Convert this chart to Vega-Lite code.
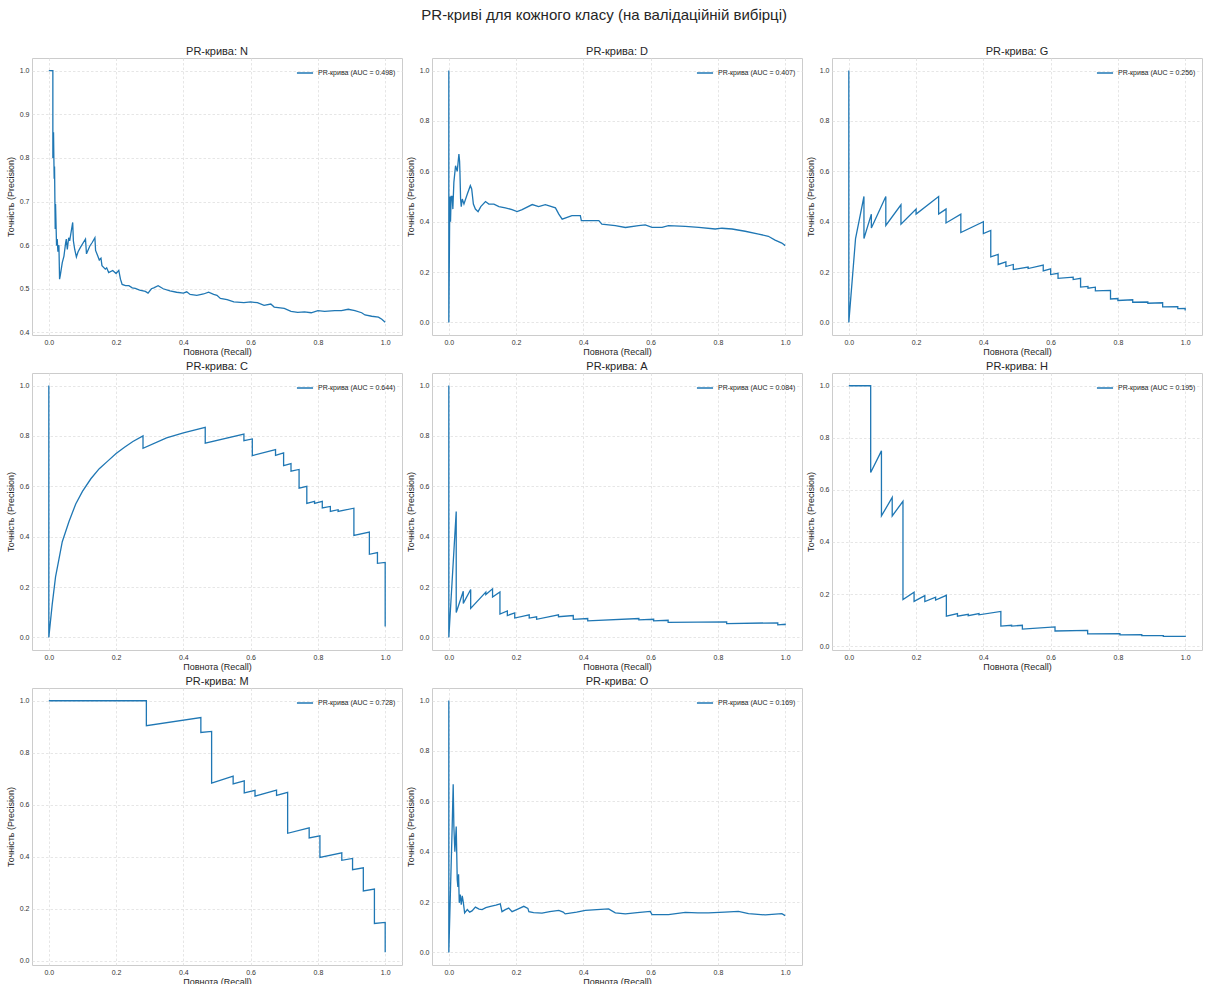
{
  "$schema": "https://vega.github.io/schema/vega-lite/v6.json",
  "background": "white",
  "padding": {"left": 5, "top": 7, "right": 5, "bottom": 5},
  "title": {"text": "PR-криві для кожного класу (на валідаційній вибірці)", "fontSize": 15, "fontWeight": "normal", "color": "#262626", "anchor": "middle", "offset": 23},
  "config": {
    "font": "Liberation Sans",
    "view": {"stroke": "#cccccc", "strokeWidth": 1},
    "axis": {"grid": true, "gridColor": "#e0e0e0", "gridDash": [2.5, 2], "gridWidth": 0.8, "domain": false, "ticks": false, "labelFontSize": 7, "labelColor": "#333333", "titleFontSize": 9, "titleFontWeight": "normal", "titleColor": "#262626", "labelPadding": 3, "titlePadding": 4},
    "axisX": {"labelPadding": 3, "titlePadding": 2},
    "title": {"fontSize": 11, "fontWeight": "normal", "color": "#262626", "offset": 1},
    "legend": {"orient": "top-right", "symbolType": "stroke", "symbolSize": 260, "symbolStrokeWidth": 1.5, "labelFontSize": 7, "labelColor": "#262626", "offset": 6, "padding": 0}
  },
  "datasets": {
    "N": [{"r":0,"p":1},{"r":0.012,"p":1},{"r":0.012,"p":0.8},{"r":0.014,"p":0.859},{"r":0.015,"p":0.8},{"r":0.016,"p":0.752},{"r":0.017,"p":0.78},{"r":0.019,"p":0.637},{"r":0.02,"p":0.694},{"r":0.022,"p":0.63},{"r":0.023,"p":0.599},{"r":0.025,"p":0.614},{"r":0.027,"p":0.585},{"r":0.03,"p":0.6},{"r":0.032,"p":0.522},{"r":0.034,"p":0.53},{"r":0.04,"p":0.56},{"r":0.045,"p":0.575},{"r":0.05,"p":0.605},{"r":0.052,"p":0.614},{"r":0.055,"p":0.59},{"r":0.059,"p":0.617},{"r":0.062,"p":0.61},{"r":0.071,"p":0.652},{"r":0.073,"p":0.61},{"r":0.077,"p":0.59},{"r":0.082,"p":0.573},{"r":0.087,"p":0.585},{"r":0.094,"p":0.595},{"r":0.109,"p":0.614},{"r":0.112,"p":0.58},{"r":0.122,"p":0.598},{"r":0.129,"p":0.606},{"r":0.137,"p":0.617},{"r":0.139,"p":0.588},{"r":0.145,"p":0.576},{"r":0.15,"p":0.566},{"r":0.155,"p":0.57},{"r":0.158,"p":0.553},{"r":0.168,"p":0.545},{"r":0.172,"p":0.548},{"r":0.178,"p":0.537},{"r":0.19,"p":0.542},{"r":0.2,"p":0.535},{"r":0.208,"p":0.542},{"r":0.213,"p":0.522},{"r":0.218,"p":0.51},{"r":0.228,"p":0.507},{"r":0.238,"p":0.507},{"r":0.248,"p":0.502},{"r":0.257,"p":0.501},{"r":0.27,"p":0.497},{"r":0.287,"p":0.494},{"r":0.295,"p":0.49},{"r":0.305,"p":0.5},{"r":0.312,"p":0.502},{"r":0.325,"p":0.507},{"r":0.34,"p":0.5},{"r":0.36,"p":0.495},{"r":0.38,"p":0.492},{"r":0.4,"p":0.49},{"r":0.41,"p":0.493},{"r":0.42,"p":0.487},{"r":0.44,"p":0.485},{"r":0.46,"p":0.488},{"r":0.475,"p":0.492},{"r":0.49,"p":0.487},{"r":0.5,"p":0.485},{"r":0.51,"p":0.478},{"r":0.53,"p":0.475},{"r":0.55,"p":0.47},{"r":0.58,"p":0.468},{"r":0.6,"p":0.47},{"r":0.62,"p":0.468},{"r":0.64,"p":0.462},{"r":0.66,"p":0.465},{"r":0.67,"p":0.458},{"r":0.7,"p":0.455},{"r":0.72,"p":0.448},{"r":0.74,"p":0.446},{"r":0.76,"p":0.447},{"r":0.78,"p":0.445},{"r":0.8,"p":0.45},{"r":0.82,"p":0.448},{"r":0.85,"p":0.45},{"r":0.87,"p":0.45},{"r":0.89,"p":0.453},{"r":0.91,"p":0.45},{"r":0.93,"p":0.445},{"r":0.94,"p":0.44},{"r":0.96,"p":0.437},{"r":0.98,"p":0.435},{"r":0.99,"p":0.43},{"r":1,"p":0.423}],
    "D": [{"r":0,"p":1},{"r":0,"p":0},{"r":0.002,"p":0.33},{"r":0.003,"p":0.5},{"r":0.005,"p":0.4},{"r":0.007,"p":0.5},{"r":0.01,"p":0.5},{"r":0.012,"p":0.45},{"r":0.015,"p":0.556},{"r":0.02,"p":0.622},{"r":0.025,"p":0.6},{"r":0.03,"p":0.669},{"r":0.032,"p":0.64},{"r":0.033,"p":0.6},{"r":0.035,"p":0.49},{"r":0.037,"p":0.46},{"r":0.04,"p":0.49},{"r":0.045,"p":0.47},{"r":0.055,"p":0.51},{"r":0.064,"p":0.543},{"r":0.068,"p":0.53},{"r":0.073,"p":0.47},{"r":0.079,"p":0.45},{"r":0.087,"p":0.44},{"r":0.095,"p":0.46},{"r":0.109,"p":0.48},{"r":0.119,"p":0.47},{"r":0.134,"p":0.47},{"r":0.149,"p":0.46},{"r":0.168,"p":0.455},{"r":0.188,"p":0.448},{"r":0.203,"p":0.44},{"r":0.218,"p":0.448},{"r":0.248,"p":0.468},{"r":0.267,"p":0.46},{"r":0.287,"p":0.468},{"r":0.317,"p":0.455},{"r":0.327,"p":0.43},{"r":0.337,"p":0.41},{"r":0.366,"p":0.424},{"r":0.391,"p":0.424},{"r":0.394,"p":0.404},{"r":0.446,"p":0.404},{"r":0.455,"p":0.39},{"r":0.495,"p":0.384},{"r":0.525,"p":0.377},{"r":0.564,"p":0.384},{"r":0.584,"p":0.387},{"r":0.604,"p":0.377},{"r":0.634,"p":0.377},{"r":0.653,"p":0.384},{"r":0.703,"p":0.381},{"r":0.743,"p":0.377},{"r":0.792,"p":0.371},{"r":0.812,"p":0.374},{"r":0.842,"p":0.371},{"r":0.881,"p":0.362},{"r":0.921,"p":0.351},{"r":0.95,"p":0.342},{"r":0.97,"p":0.327},{"r":0.99,"p":0.315},{"r":1,"p":0.305}],
    "G": [{"r":0,"p":1},{"r":0,"p":0},{"r":0.02,"p":0.333},{"r":0.045,"p":0.5},{"r":0.045,"p":0.333},{"r":0.067,"p":0.43},{"r":0.067,"p":0.375},{"r":0.11,"p":0.5},{"r":0.11,"p":0.385},{"r":0.155,"p":0.467},{"r":0.155,"p":0.39},{"r":0.2,"p":0.45},{"r":0.2,"p":0.43},{"r":0.267,"p":0.5},{"r":0.267,"p":0.43},{"r":0.289,"p":0.45},{"r":0.289,"p":0.395},{"r":0.333,"p":0.43},{"r":0.333,"p":0.357},{"r":0.4,"p":0.4},{"r":0.4,"p":0.353},{"r":0.422,"p":0.365},{"r":0.422,"p":0.26},{"r":0.444,"p":0.27},{"r":0.444,"p":0.23},{"r":0.467,"p":0.24},{"r":0.467,"p":0.222},{"r":0.489,"p":0.23},{"r":0.489,"p":0.21},{"r":0.533,"p":0.22},{"r":0.533,"p":0.214},{"r":0.578,"p":0.228},{"r":0.578,"p":0.205},{"r":0.6,"p":0.213},{"r":0.6,"p":0.19},{"r":0.622,"p":0.195},{"r":0.622,"p":0.175},{"r":0.667,"p":0.18},{"r":0.667,"p":0.17},{"r":0.689,"p":0.175},{"r":0.689,"p":0.14},{"r":0.711,"p":0.143},{"r":0.711,"p":0.136},{"r":0.733,"p":0.14},{"r":0.733,"p":0.125},{"r":0.778,"p":0.127},{"r":0.778,"p":0.093},{"r":0.8,"p":0.095},{"r":0.8,"p":0.087},{"r":0.844,"p":0.09},{"r":0.844,"p":0.08},{"r":0.889,"p":0.081},{"r":0.889,"p":0.076},{"r":0.933,"p":0.078},{"r":0.933,"p":0.062},{"r":0.978,"p":0.063},{"r":0.978,"p":0.055},{"r":1,"p":0.056},{"r":1,"p":0.047}],
    "C": [{"r":0,"p":1},{"r":0,"p":0},{"r":0.01,"p":0.13},{"r":0.02,"p":0.24},{"r":0.03,"p":0.31},{"r":0.04,"p":0.38},{"r":0.06,"p":0.46},{"r":0.08,"p":0.53},{"r":0.1,"p":0.58},{"r":0.125,"p":0.63},{"r":0.15,"p":0.67},{"r":0.175,"p":0.7},{"r":0.2,"p":0.73},{"r":0.225,"p":0.755},{"r":0.25,"p":0.778},{"r":0.28,"p":0.8},{"r":0.28,"p":0.751},{"r":0.35,"p":0.792},{"r":0.4,"p":0.812},{"r":0.465,"p":0.834},{"r":0.465,"p":0.771},{"r":0.58,"p":0.807},{"r":0.58,"p":0.781},{"r":0.605,"p":0.788},{"r":0.605,"p":0.722},{"r":0.674,"p":0.746},{"r":0.674,"p":0.723},{"r":0.698,"p":0.733},{"r":0.698,"p":0.682},{"r":0.72,"p":0.69},{"r":0.72,"p":0.66},{"r":0.744,"p":0.667},{"r":0.744,"p":0.593},{"r":0.767,"p":0.6},{"r":0.767,"p":0.532},{"r":0.79,"p":0.54},{"r":0.79,"p":0.532},{"r":0.813,"p":0.54},{"r":0.813,"p":0.514},{"r":0.837,"p":0.52},{"r":0.837,"p":0.5},{"r":0.86,"p":0.507},{"r":0.86,"p":0.5},{"r":0.907,"p":0.513},{"r":0.907,"p":0.405},{"r":0.953,"p":0.418},{"r":0.953,"p":0.33},{"r":0.977,"p":0.337},{"r":0.977,"p":0.294},{"r":1,"p":0.298},{"r":1,"p":0.043}],
    "A": [{"r":0,"p":1},{"r":0,"p":0},{"r":0.022,"p":0.5},{"r":0.022,"p":0.099},{"r":0.043,"p":0.183},{"r":0.043,"p":0.135},{"r":0.065,"p":0.19},{"r":0.065,"p":0.115},{"r":0.11,"p":0.18},{"r":0.11,"p":0.17},{"r":0.13,"p":0.193},{"r":0.13,"p":0.16},{"r":0.152,"p":0.18},{"r":0.152,"p":0.093},{"r":0.174,"p":0.105},{"r":0.174,"p":0.087},{"r":0.196,"p":0.097},{"r":0.196,"p":0.077},{"r":0.239,"p":0.09},{"r":0.239,"p":0.077},{"r":0.261,"p":0.082},{"r":0.261,"p":0.072},{"r":0.326,"p":0.09},{"r":0.326,"p":0.082},{"r":0.37,"p":0.087},{"r":0.37,"p":0.072},{"r":0.413,"p":0.075},{"r":0.413,"p":0.066},{"r":0.565,"p":0.075},{"r":0.565,"p":0.07},{"r":0.609,"p":0.072},{"r":0.609,"p":0.066},{"r":0.652,"p":0.068},{"r":0.652,"p":0.06},{"r":0.826,"p":0.062},{"r":0.826,"p":0.055},{"r":0.978,"p":0.058},{"r":0.978,"p":0.05},{"r":1,"p":0.052},{"r":1,"p":0.048}],
    "H": [{"r":0,"p":1},{"r":0.065,"p":1},{"r":0.065,"p":0.667},{"r":0.097,"p":0.75},{"r":0.097,"p":0.5},{"r":0.129,"p":0.571},{"r":0.129,"p":0.5},{"r":0.161,"p":0.556},{"r":0.161,"p":0.179},{"r":0.194,"p":0.207},{"r":0.194,"p":0.172},{"r":0.226,"p":0.194},{"r":0.226,"p":0.171},{"r":0.258,"p":0.188},{"r":0.258,"p":0.177},{"r":0.29,"p":0.195},{"r":0.29,"p":0.115},{"r":0.323,"p":0.125},{"r":0.323,"p":0.115},{"r":0.355,"p":0.122},{"r":0.355,"p":0.117},{"r":0.387,"p":0.125},{"r":0.387,"p":0.12},{"r":0.452,"p":0.133},{"r":0.452,"p":0.077},{"r":0.484,"p":0.08},{"r":0.484,"p":0.077},{"r":0.516,"p":0.08},{"r":0.516,"p":0.065},{"r":0.613,"p":0.074},{"r":0.613,"p":0.058},{"r":0.71,"p":0.06},{"r":0.71,"p":0.047},{"r":0.806,"p":0.048},{"r":0.806,"p":0.043},{"r":0.871,"p":0.044},{"r":0.871,"p":0.04},{"r":0.935,"p":0.04},{"r":0.935,"p":0.037},{"r":1,"p":0.037},{"r":1,"p":0.035}],
    "M": [{"r":0,"p":1},{"r":0.29,"p":1},{"r":0.29,"p":0.904},{"r":0.452,"p":0.935},{"r":0.452,"p":0.878},{"r":0.484,"p":0.882},{"r":0.484,"p":0.683},{"r":0.548,"p":0.71},{"r":0.548,"p":0.68},{"r":0.581,"p":0.692},{"r":0.581,"p":0.645},{"r":0.613,"p":0.655},{"r":0.613,"p":0.633},{"r":0.677,"p":0.656},{"r":0.677,"p":0.636},{"r":0.71,"p":0.647},{"r":0.71,"p":0.49},{"r":0.774,"p":0.511},{"r":0.774,"p":0.472},{"r":0.806,"p":0.48},{"r":0.806,"p":0.397},{"r":0.871,"p":0.415},{"r":0.871,"p":0.386},{"r":0.903,"p":0.393},{"r":0.903,"p":0.35},{"r":0.935,"p":0.357},{"r":0.935,"p":0.268},{"r":0.968,"p":0.275},{"r":0.968,"p":0.143},{"r":1,"p":0.147},{"r":1,"p":0.032}],
    "O": [{"r":0,"p":1},{"r":0,"p":0},{"r":0.01,"p":0.5},{"r":0.013,"p":0.668},{"r":0.015,"p":0.5},{"r":0.018,"p":0.4},{"r":0.02,"p":0.45},{"r":0.022,"p":0.5},{"r":0.023,"p":0.43},{"r":0.025,"p":0.29},{"r":0.027,"p":0.26},{"r":0.029,"p":0.31},{"r":0.031,"p":0.197},{"r":0.034,"p":0.23},{"r":0.037,"p":0.19},{"r":0.04,"p":0.225},{"r":0.043,"p":0.2},{"r":0.047,"p":0.157},{"r":0.055,"p":0.17},{"r":0.062,"p":0.16},{"r":0.069,"p":0.165},{"r":0.079,"p":0.18},{"r":0.09,"p":0.172},{"r":0.099,"p":0.17},{"r":0.11,"p":0.178},{"r":0.124,"p":0.183},{"r":0.14,"p":0.188},{"r":0.153,"p":0.193},{"r":0.158,"p":0.162},{"r":0.168,"p":0.17},{"r":0.178,"p":0.176},{"r":0.188,"p":0.162},{"r":0.205,"p":0.172},{"r":0.223,"p":0.183},{"r":0.235,"p":0.175},{"r":0.238,"p":0.162},{"r":0.252,"p":0.158},{"r":0.277,"p":0.156},{"r":0.3,"p":0.162},{"r":0.327,"p":0.167},{"r":0.34,"p":0.16},{"r":0.346,"p":0.153},{"r":0.38,"p":0.16},{"r":0.406,"p":0.167},{"r":0.44,"p":0.17},{"r":0.475,"p":0.173},{"r":0.495,"p":0.157},{"r":0.525,"p":0.153},{"r":0.56,"p":0.158},{"r":0.599,"p":0.163},{"r":0.604,"p":0.15},{"r":0.653,"p":0.15},{"r":0.703,"p":0.159},{"r":0.74,"p":0.157},{"r":0.772,"p":0.157},{"r":0.82,"p":0.16},{"r":0.861,"p":0.163},{"r":0.891,"p":0.154},{"r":0.941,"p":0.149},{"r":0.99,"p":0.154},{"r":1,"p":0.146}]
  },
  "columns": 3,
  "spacing": {"row": 38, "column": 30},
  "bounds": "flush",
  "resolve": {"scale": {"color": "independent", "x": "independent", "y": "independent"}, "legend": {"color": "independent"}},
  "concat": [
    {"title": "PR-крива: N", "width": 370, "height": 277, "data": {"name": "N"},
     "mark": {"type": "line", "strokeWidth": 1.3},
     "encoding": {
       "x": {"field": "r", "type": "quantitative", "scale": {"domain": [-0.05, 1.05], "nice": false, "zero": false}, "axis": {"title": "Повнота (Recall)", "values": [0, 0.2, 0.4, 0.6, 0.8, 1], "format": ".1f"}},
       "y": {"field": "p", "type": "quantitative", "scale": {"domain": [0.394, 1.029], "nice": false, "zero": false}, "axis": {"title": "Точність (Precision)", "values": [0.4, 0.5, 0.6, 0.7, 0.8, 0.9, 1], "format": ".1f"}},
       "color": {"datum": "PR-крива (AUC = 0.498)", "type": "nominal", "scale": {"range": ["#1f77b4"]}, "legend": {"title": null}},
       "order": {"value": null}}},
    {"title": "PR-крива: D", "width": 370, "height": 277, "data": {"name": "D"},
     "mark": {"type": "line", "strokeWidth": 1.3},
     "encoding": {
       "x": {"field": "r", "type": "quantitative", "scale": {"domain": [-0.05, 1.05], "nice": false, "zero": false}, "axis": {"title": "Повнота (Recall)", "values": [0, 0.2, 0.4, 0.6, 0.8, 1], "format": ".1f"}},
       "y": {"field": "p", "type": "quantitative", "scale": {"domain": [-0.05, 1.05], "nice": false, "zero": false}, "axis": {"title": "Точність (Precision)", "values": [0, 0.2, 0.4, 0.6, 0.8, 1], "format": ".1f"}},
       "color": {"datum": "PR-крива (AUC = 0.407)", "type": "nominal", "scale": {"range": ["#1f77b4"]}, "legend": {"title": null}},
       "order": {"value": null}}},
    {"title": "PR-крива: G", "width": 370, "height": 277, "data": {"name": "G"},
     "mark": {"type": "line", "strokeWidth": 1.3},
     "encoding": {
       "x": {"field": "r", "type": "quantitative", "scale": {"domain": [-0.05, 1.05], "nice": false, "zero": false}, "axis": {"title": "Повнота (Recall)", "values": [0, 0.2, 0.4, 0.6, 0.8, 1], "format": ".1f"}},
       "y": {"field": "p", "type": "quantitative", "scale": {"domain": [-0.05, 1.05], "nice": false, "zero": false}, "axis": {"title": "Точність (Precision)", "values": [0, 0.2, 0.4, 0.6, 0.8, 1], "format": ".1f"}},
       "color": {"datum": "PR-крива (AUC = 0.256)", "type": "nominal", "scale": {"range": ["#1f77b4"]}, "legend": {"title": null}},
       "order": {"value": null}}},
    {"title": "PR-крива: C", "width": 370, "height": 277, "data": {"name": "C"},
     "mark": {"type": "line", "strokeWidth": 1.3},
     "encoding": {
       "x": {"field": "r", "type": "quantitative", "scale": {"domain": [-0.05, 1.05], "nice": false, "zero": false}, "axis": {"title": "Повнота (Recall)", "values": [0, 0.2, 0.4, 0.6, 0.8, 1], "format": ".1f"}},
       "y": {"field": "p", "type": "quantitative", "scale": {"domain": [-0.05, 1.05], "nice": false, "zero": false}, "axis": {"title": "Точність (Precision)", "values": [0, 0.2, 0.4, 0.6, 0.8, 1], "format": ".1f"}},
       "color": {"datum": "PR-крива (AUC = 0.644)", "type": "nominal", "scale": {"range": ["#1f77b4"]}, "legend": {"title": null}},
       "order": {"value": null}}},
    {"title": "PR-крива: A", "width": 370, "height": 277, "data": {"name": "A"},
     "mark": {"type": "line", "strokeWidth": 1.3},
     "encoding": {
       "x": {"field": "r", "type": "quantitative", "scale": {"domain": [-0.05, 1.05], "nice": false, "zero": false}, "axis": {"title": "Повнота (Recall)", "values": [0, 0.2, 0.4, 0.6, 0.8, 1], "format": ".1f"}},
       "y": {"field": "p", "type": "quantitative", "scale": {"domain": [-0.05, 1.05], "nice": false, "zero": false}, "axis": {"title": "Точність (Precision)", "values": [0, 0.2, 0.4, 0.6, 0.8, 1], "format": ".1f"}},
       "color": {"datum": "PR-крива (AUC = 0.084)", "type": "nominal", "scale": {"range": ["#1f77b4"]}, "legend": {"title": null}},
       "order": {"value": null}}},
    {"title": "PR-крива: H", "width": 370, "height": 277, "data": {"name": "H"},
     "mark": {"type": "line", "strokeWidth": 1.3},
     "encoding": {
       "x": {"field": "r", "type": "quantitative", "scale": {"domain": [-0.05, 1.05], "nice": false, "zero": false}, "axis": {"title": "Повнота (Recall)", "values": [0, 0.2, 0.4, 0.6, 0.8, 1], "format": ".1f"}},
       "y": {"field": "p", "type": "quantitative", "scale": {"domain": [-0.015, 1.049], "nice": false, "zero": false}, "axis": {"title": "Точність (Precision)", "values": [0, 0.2, 0.4, 0.6, 0.8, 1], "format": ".1f"}},
       "color": {"datum": "PR-крива (AUC = 0.195)", "type": "nominal", "scale": {"range": ["#1f77b4"]}, "legend": {"title": null}},
       "order": {"value": null}}},
    {"title": "PR-крива: M", "width": 370, "height": 277, "data": {"name": "M"},
     "mark": {"type": "line", "strokeWidth": 1.3},
     "encoding": {
       "x": {"field": "r", "type": "quantitative", "scale": {"domain": [-0.05, 1.05], "nice": false, "zero": false}, "axis": {"title": "Повнота (Recall)", "values": [0, 0.2, 0.4, 0.6, 0.8, 1], "format": ".1f"}},
       "y": {"field": "p", "type": "quantitative", "scale": {"domain": [-0.017, 1.049], "nice": false, "zero": false}, "axis": {"title": "Точність (Precision)", "values": [0, 0.2, 0.4, 0.6, 0.8, 1], "format": ".1f"}},
       "color": {"datum": "PR-крива (AUC = 0.728)", "type": "nominal", "scale": {"range": ["#1f77b4"]}, "legend": {"title": null}},
       "order": {"value": null}}},
    {"title": "PR-крива: O", "width": 370, "height": 277, "data": {"name": "O"},
     "mark": {"type": "line", "strokeWidth": 1.3},
     "encoding": {
       "x": {"field": "r", "type": "quantitative", "scale": {"domain": [-0.05, 1.05], "nice": false, "zero": false}, "axis": {"title": "Повнота (Recall)", "values": [0, 0.2, 0.4, 0.6, 0.8, 1], "format": ".1f"}},
       "y": {"field": "p", "type": "quantitative", "scale": {"domain": [-0.05, 1.05], "nice": false, "zero": false}, "axis": {"title": "Точність (Precision)", "values": [0, 0.2, 0.4, 0.6, 0.8, 1], "format": ".1f"}},
       "color": {"datum": "PR-крива (AUC = 0.169)", "type": "nominal", "scale": {"range": ["#1f77b4"]}, "legend": {"title": null}},
       "order": {"value": null}}}
  ]
}
